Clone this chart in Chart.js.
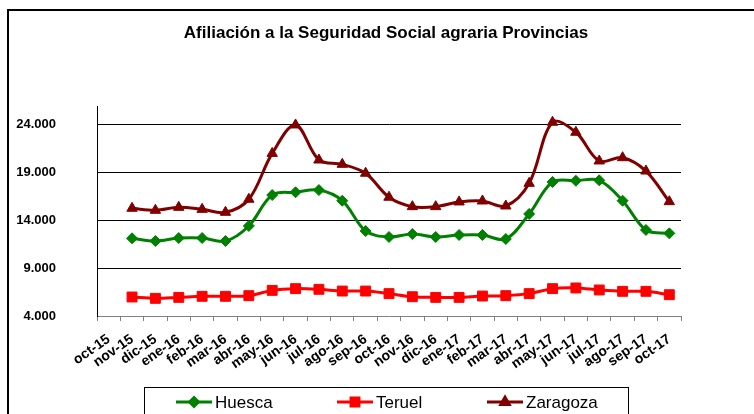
<!DOCTYPE html>
<html>
<head>
<meta charset="utf-8">
<script src="https://cdn.jsdelivr.net/npm/chart.js@4"></script>
<style>
  html, body { margin: 0; padding: 0; background: #fff; }
  #wrap { width: 754px; height: 414px; position: relative; overflow: hidden; }
</style>
</head>
<body>
<div id="wrap"><canvas id="c" width="754" height="414"></canvas></div>
<script>
// Afiliados a la Seguridad Social (régimen agrario) por provincia
const months = ['oct-15','nov-15','dic-15','ene-16','feb-16','mar-16','abr-16','may-16','jun-16','jul-16','ago-16','sep-16',
                'oct-16','nov-16','dic-16','ene-17','feb-17','mar-17','abr-17','may-17','jun-17','jul-17','ago-17','sep-17','oct-17'];

const huesca   = [null, 12090, 11810, 12120, 12120, 11810, 13380, 16600, 16890, 17120, 16010, 12850,
                  12230, 12540, 12230, 12440, 12440, 12020, 14630, 17960, 18090, 18130, 16010, 12960, 12610];

const teruel   = [null, 5980, 5840, 5940, 6050, 6050, 6120, 6670, 6850, 6780, 6600, 6600,
                  6330, 6010, 5940, 5940, 6080, 6120, 6330, 6850, 6920, 6710, 6570, 6570, 6220];

const zaragoza = [null, 15220, 15010, 15320, 15110, 14800, 16160, 20940, 23900, 20250, 19800, 18870,
                  16370, 15390, 15390, 15880, 15980, 15460, 17820, 24180, 23140, 20150, 20490, 19100, 15910];

const yTicks = [4000, 9000, 14000, 19000, 24000];

const FONT = 'Arial, "Liberation Sans", Helvetica, sans-serif';

// Spanish thousands separator: 24000 -> "24.000"
function fmt(v) {
  return String(Math.round(v)).replace(/\B(?=(\d{3})+(?!\d))/g, '.');
}

const series = [
  { label: 'Huesca',   data: huesca,   color: '#008000', style: 'rectRot',  radius: 5.5 },
  { label: 'Teruel',   data: teruel,   color: '#FF0000', style: 'rect',     radius: 7 },
  { label: 'Zaragoza', data: zaragoza, color: '#800000', style: 'triangle', radius: 6 }
];

// Frame, title and boxed legend
const decor = {
  id: 'decor',
  afterDraw(chart) {
    const ctx = chart.ctx;
    ctx.save();
    // outer frame
    ctx.strokeStyle = '#000';
    ctx.lineWidth = 2;
    ctx.strokeRect(8, 10, 800, 500);

    // title
    ctx.fillStyle = '#000';
    ctx.font = 'bold 17px ' + FONT;
    ctx.textAlign = 'center';
    ctx.textBaseline = 'middle';
    ctx.fillText('Afiliación a la Seguridad Social agraria Provincias', 386, 33);

    // legend box
    ctx.lineWidth = 1;
    ctx.strokeStyle = '#000';
    ctx.strokeRect(144.5, 387.5, 484, 40);

    const ly = 402;
    const lx = [176, 337, 487];
    ctx.font = '17px ' + FONT;
    ctx.textAlign = 'left';
    chart.data.datasets.forEach((ds, i) => {
      const x0 = lx[i], x1 = lx[i] + 36;
      ctx.strokeStyle = ds.borderColor;
      ctx.lineWidth = 3;
      ctx.beginPath();
      ctx.moveTo(x0, ly);
      ctx.lineTo(x1, ly);
      ctx.stroke();
      ctx.fillStyle = ds.pointBackgroundColor;
      ctx.strokeStyle = ds.pointBorderColor;
      Chart.helpers.drawPoint(ctx, {
        pointStyle: ds.pointStyle, radius: ds.pointRadius * 0.8, rotation: 0, borderWidth: 1
      }, (x0 + x1) / 2, ly);
      ctx.fillStyle = '#000';
      ctx.fillText(ds.label, x1 + 3, ly + 1);
    });
    ctx.restore();
  }
};

new Chart(document.getElementById('c'), {
  type: 'line',
  data: {
    labels: months,
    datasets: series.map(s => ({
      label: s.label,
      data: s.data,
      borderColor: s.color,
      backgroundColor: s.color,
      pointBackgroundColor: s.color,
      pointBorderColor: s.color,
      pointStyle: s.style,
      pointRadius: s.radius,
      pointBorderWidth: 1,
      borderWidth: 3,
      tension: 0.35,
      fill: false
    }))
  },
  options: {
    responsive: false,
    animation: false,
    layout: { padding: { top: 106, right: 73, left: 0, bottom: 0 } },
    plugins: {
      legend: { display: false },
      title: { display: false },
      tooltip: { enabled: false }
    },
    scales: {
      x: {
        type: 'category',
        offset: true,
        grid: { offset: true, drawOnChartArea: false, drawTicks: true, tickLength: 5, color: '#808080' },
        border: { color: '#808080', width: 1 },
        ticks: {
          autoSkip: false, maxRotation: 35, minRotation: 35, padding: 10,
          color: '#000', font: { family: FONT, size: 14, weight: 'bold' }
        },
        afterFit(s) { s.height = 98; }
      },
      y: {
        min: 4000,
        max: 25875,
        afterBuildTicks(s) { s.ticks = yTicks.map(v => ({ value: v })); },
        grid: {
          drawTicks: false, tickLength: 0, lineWidth: 1,
          color: c => (c.tick && c.tick.value === 4000 ? 'rgba(0,0,0,0)' : '#000')
        },
        border: { color: '#000', width: 1 },
        ticks: {
          padding: 41, color: '#000',
          font: { family: FONT, size: 13, weight: 'bold' },
          callback: v => fmt(v)
        },
        afterFit(s) { s.width = 97; }
      }
    }
  },
  plugins: [decor]
});
</script>
</body>
</html>
